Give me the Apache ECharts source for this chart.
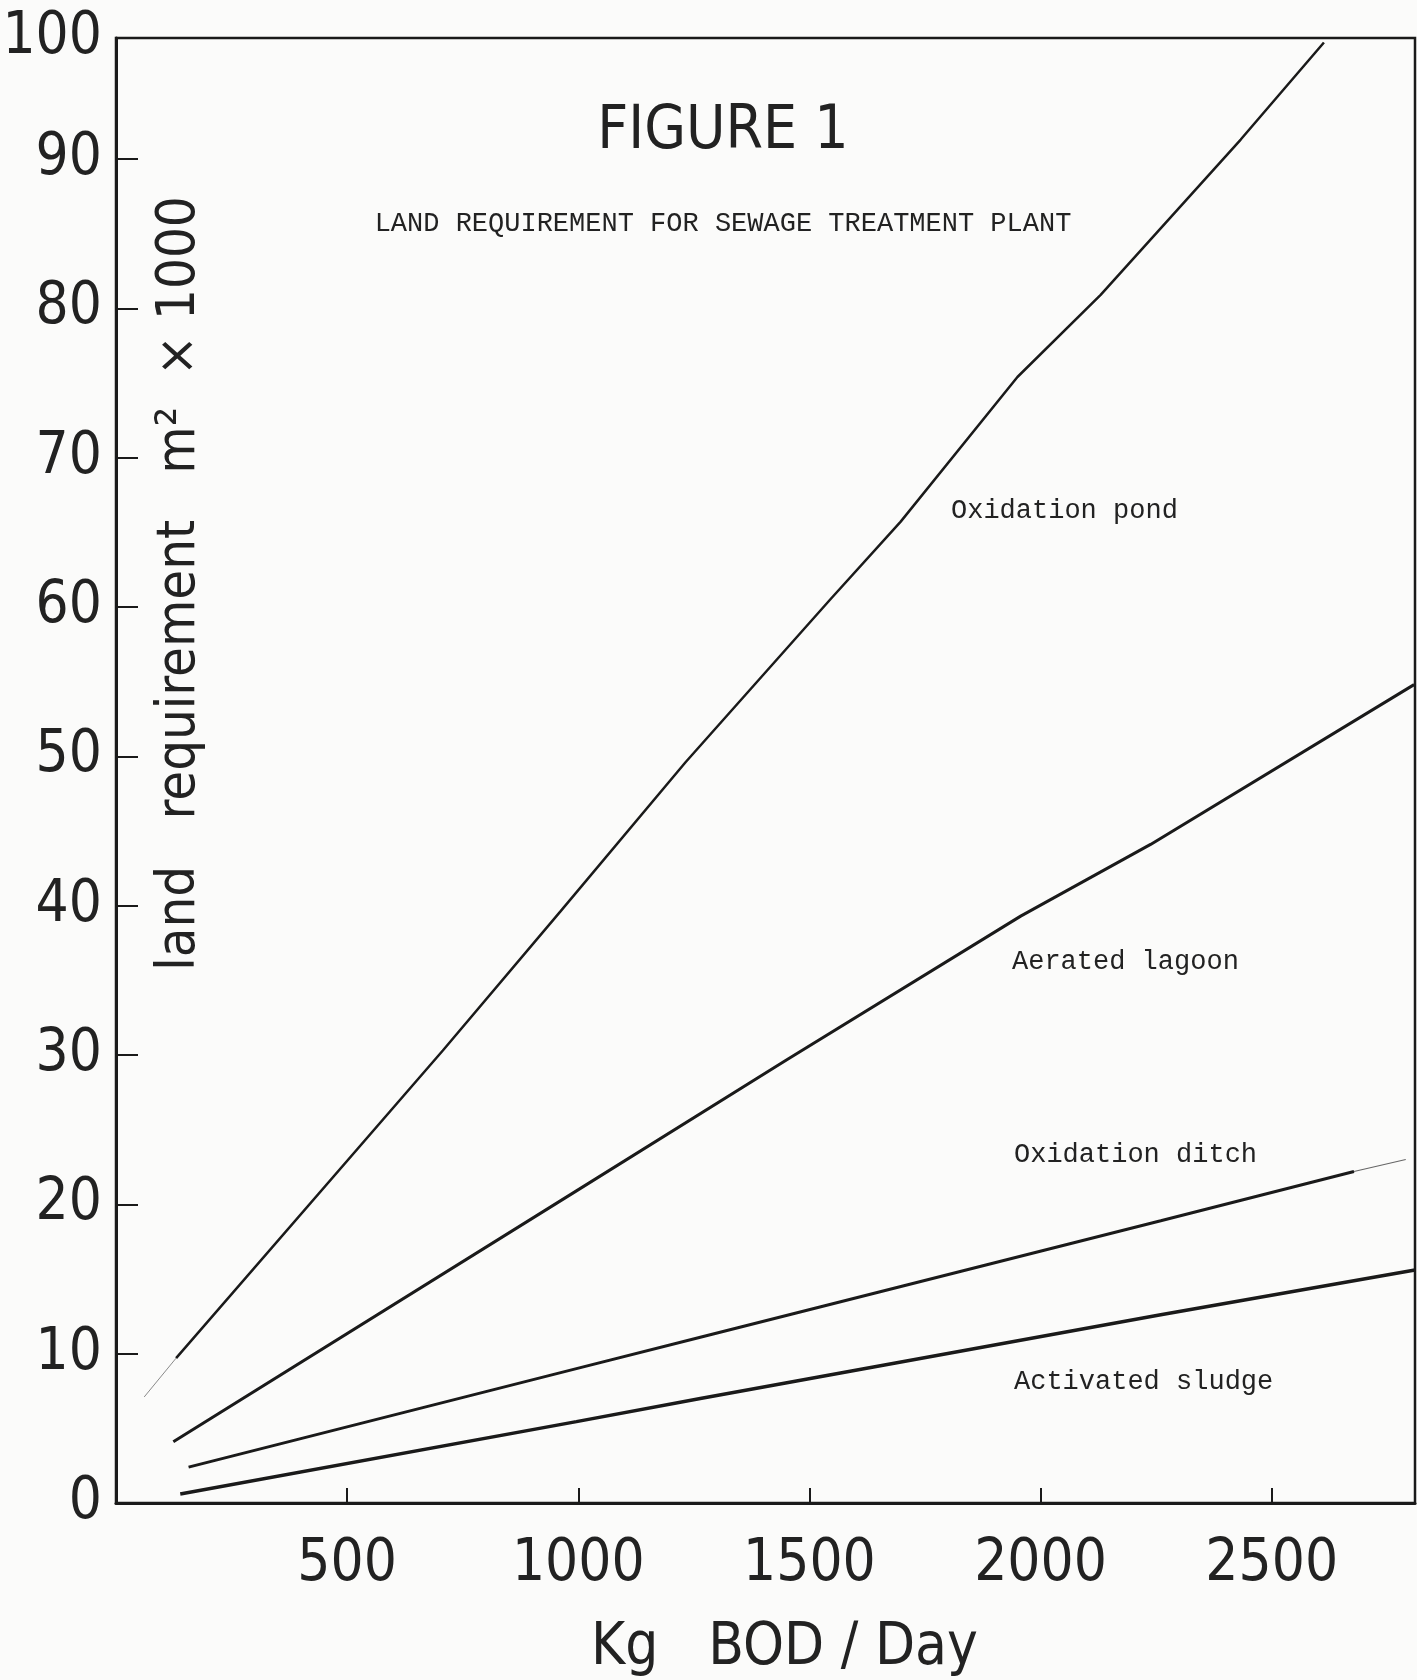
<!DOCTYPE html>
<html>
<head>
<meta charset="utf-8">
<script src="https://cdn.jsdelivr.net/npm/echarts@6/dist/echarts.min.js"></script>
<style>
  html, body { margin: 0; padding: 0; background: #fbfbfa; }
  #chart { width: 1417px; height: 1680px; }
</style>
</head>
<body>
<div id="chart"></div>
<script>
// values: [kg BOD/day, m2 x 1000]
const oxidationPond = [[130, 9.7], [707, 30.3], [961, 39.6], [1232, 49.6], [1545, 60.5], [1697, 65.7], [1950, 75.4], [2130, 80.9], [2433, 91.3], [2613, 97.8]];
const oxidationPondStart = [[61, 7.1], [130, 9.7]];
const aeratedLagoon = [[124, 4.1], [996, 20.9], [1452, 29.7], [1957, 39.3], [2238, 44.1], [2808, 54.8]];
const oxidationDitch = [[157, 2.4], [996, 9.0], [1264, 11.1], [2260, 18.9], [2678, 22.2]];
const oxidationDitchEnd = [[2678, 22.2], [2790, 23.0]];
const activatedSludge = [[139, 0.6], [996, 5.45], [1264, 7.0], [2260, 12.6], [2810, 15.6]];

const xTickLabels = ['0', '500', '1000', '1500', '2000', '2500'];
const yTickLabels = ['0', '10', '20', '30', '40', '50', '60', '70', '80', '90', '100'];

const chart = echarts.init(document.getElementById('chart'));

const ink = '#1a1a1a';
const stencil = "'Liberation Sans Narrow', 'DejaVu Sans Condensed', 'Roboto Condensed', Roboto, sans-serif";
const typewriter = "'Liberation Mono', 'DejaVu Sans Mono', monospace";

const lineSeries = (name, data, width, color) => ({
  name: name,
  type: 'line',
  data: data,
  showSymbol: false,
  silent: true,
  lineStyle: { color: color || ink, width: width }
});

const note = (text, left, top) => ({
  type: 'text',
  left: left,
  top: top,
  style: { text: text, font: '27px ' + typewriter, fill: '#222' }
});

const option = {
  backgroundColor: '#fbfbfa',
  animation: false,
  title: {
    text: 'FIGURE 1',
    subtext: 'LAND REQUIREMENT FOR SEWAGE TREATMENT PLANT',
    left: 718,
    top: 97,
    textAlign: 'center',
    itemGap: 48,
    textStyle: { fontFamily: stencil, fontSize: 60, fontWeight: 200, color: '#222' },
    subtextStyle: { fontFamily: typewriter, fontSize: 27, color: '#222' }
  },
  grid: {
    left: 116,
    right: 2,
    top: 38,
    bottom: 177,
    outerBoundsMode: 'none',
    show: true,
    borderColor: ink,
    borderWidth: 2.5,
    backgroundColor: 'transparent'
  },
  xAxis: {
    type: 'value',
    min: 0,
    max: 2810,
    interval: 500,
    name: 'Kg   BOD / Day',
    nameLocation: 'middle',
    nameGap: 117,
    nameTextStyle: { fontFamily: stencil, fontSize: 58, fontWeight: 200, color: '#222', padding: [0, 0, 0, 38] },
    axisLine: { lineStyle: { color: ink, width: 3 } },
    axisTick: { inside: true, length: 15, lineStyle: { color: ink, width: 2 } },
    splitLine: { show: false },
    axisLabel: {
      showMinLabel: false,
      showMaxLabel: false,
      margin: 33,
      fontFamily: stencil,
      fontSize: 58,
      fontWeight: 200,
      color: '#222',
      formatter: (v, i) => xTickLabels[i]
    }
  },
  yAxis: {
    type: 'value',
    min: 0,
    max: 98.1,
    interval: 10,
    name: 'land   requirement   m²  × 1000',
    nameLocation: 'middle',
    nameRotate: 90,
    nameGap: -91,
    nameTextStyle: { fontFamily: stencil, fontSize: 54, fontWeight: 200, color: '#222', padding: [0, 0, 0, 374] },
    axisLine: { lineStyle: { color: ink, width: 3 } },
    axisTick: { inside: true, length: 22, lineStyle: { color: ink, width: 2 } },
    splitLine: { show: false },
    axisLabel: {
      margin: 14,
      fontFamily: stencil,
      fontSize: 58,
      fontWeight: 200,
      color: '#222',
      formatter: (v, i) => yTickLabels[i]
    }
  },
  graphic: [
    note('Oxidation pond', 951, 497),
    note('Aerated lagoon', 1012, 948),
    note('Oxidation ditch', 1014, 1141),
    note('Activated sludge', 1014, 1368)
  ],
  series: [
    lineSeries('Oxidation pond', oxidationPond, 2.5),
    lineSeries('Oxidation pond start', oxidationPondStart, 1, '#8a8a8a'),
    lineSeries('Aerated lagoon', aeratedLagoon, 3),
    lineSeries('Oxidation ditch', oxidationDitch, 3),
    lineSeries('Oxidation ditch end', oxidationDitchEnd, 1.2, '#666'),
    lineSeries('Activated sludge', activatedSludge, 3.5)
  ]
};

chart.setOption(option);
</script>
</body>
</html>
